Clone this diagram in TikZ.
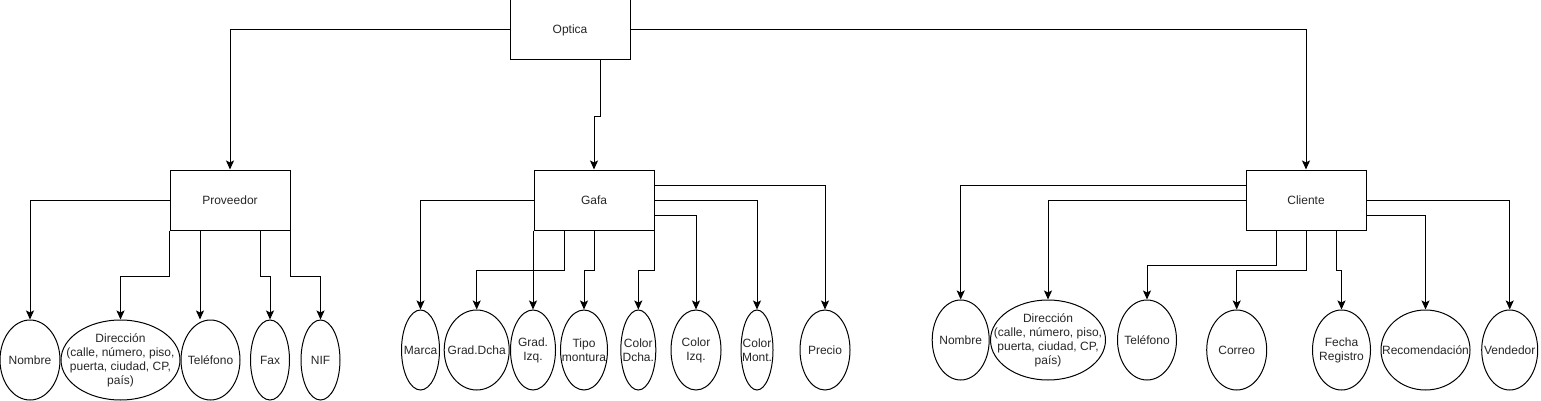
\documentclass[tikz,border=0pt]{standalone}
\usepackage{fontspec}
\setmainfont{Liberation Sans}
\usetikzlibrary{arrows.meta,shapes.geometric}

\begin{document}
\begin{tikzpicture}[x=1pt,y=-1pt,line width=1pt,
    caja/.style={draw,rectangle,minimum width=120,minimum height=60,inner sep=0pt},
    atrib/.style={draw,ellipse,minimum height=80,inner sep=0pt},
    flecha/.style={-{Stealth[length=9pt,width=8pt,inset=2pt]}},
    every node/.style={font=\fontsize{12}{14}\selectfont,text=black!85},
    every label/.style={align=center}]
    \useasboundingbox (0,0) rectangle (1541,401);

    % Draw the boxes
    \node[caja] (opt) at (570,30) {Optica};
    \node[caja] (prov) at (230,200) {Proveedor};
    \node[caja] (gafa) at (594,200) {Gafa};
    \node[caja] (cli) at (1306,200) {Cliente};

    % Attributes of Proveedor
    \node[atrib,minimum width=60,label=center:Nombre] (pNom) at (30,360) {};
    \node[atrib,minimum width=119,label={center:{Dirección\\(calle, número, piso,\\puerta, ciudad, CP,\\país)}}] (pDir) at (120.5,360) {};
    \node[atrib,minimum width=59,label=center:Teléfono] (pTel) at (210.5,360) {};
    \node[atrib,minimum width=39,label=center:Fax] (pFax) at (270,360) {};
    \node[atrib,minimum width=39,label=center:NIF] (pNif) at (320.5,360) {};

    % Attributes of Gafa
    \node[atrib,minimum width=38,label=center:Marca] (gMar) at (420.5,350) {};
    \node[atrib,minimum width=65,label=center:Grad.Dcha] (gGD) at (476.7,350) {};
    \node[atrib,minimum width=45,label={center:{Grad.\\Izq.}}] (gGI) at (533,350) {};
    \node[atrib,minimum width=47,label={center:{Tipo\\montura}}] (gTipo) at (584,350) {};
    \node[atrib,minimum width=35,label={center:{Color\\Dcha.}}] (gCD) at (638.3,350) {};
    \node[atrib,minimum width=50,label={center:{Color\\Izq.}}] (gCI) at (696,350) {};
    \node[atrib,minimum width=32,label={center:{Color\\Mont.}}] (gCM) at (757,350) {};
    \node[atrib,minimum width=50,label=center:Precio] (gPre) at (825,350) {};

    % Attributes of Cliente
    \node[atrib,minimum width=57,label=center:Nombre] (cNom) at (960.7,340) {};
    \node[atrib,minimum width=115,label={center:{Dirección\\(calle, número, piso,\\puerta, ciudad, CP,\\país)}}] (cDir) at (1048,340) {};
    \node[atrib,minimum width=59,label=center:Teléfono] (cTel) at (1147,340) {};
    \node[atrib,minimum width=60,label=center:Correo] (cCor) at (1236.7,350) {};
    \node[atrib,minimum width=58,label={center:{Fecha\\Registro}}] (cFec) at (1341.5,350) {};
    \node[atrib,minimum width=89,label=center:Recomendación] (cRec) at (1425.5,350) {};
    \node[atrib,minimum width=56,label=center:Vendedor] (cVen) at (1509.7,350) {};

    % Optica to its parts
    \draw[flecha] (opt.west) -| (prov.north);
    \draw[flecha] ([xshift=30]opt.south) -- ++(0,55.7) -| (gafa.north);
    \draw[flecha] (opt.east) -| (cli.north);

    % Proveedor connectors
    \draw[flecha] (prov.west) -| (pNom.north);
    \draw[flecha] (prov.south west) -- ++(0,46) -| (pDir.north);
    \draw[flecha] ([xshift=-30]prov.south) -- ([xshift=-30]prov.south |- pTel.north);
    \draw[flecha] ([xshift=30]prov.south) -- ++(0,46) -| (pFax.north);
    \draw[flecha] (prov.south east) -- ++(0,46) -| (pNif.north);

    % Gafa connectors
    \draw[flecha] (gafa.west) -| (gMar.north);
    \draw[flecha] ([xshift=-30]gafa.south) -- ++(0,40) -| (gGD.north);
    \draw[flecha] (gafa.south west) -- ++(0,40) -| (gGI.north);
    \draw[flecha] (gafa.south) -- ++(0,40) -| (gTipo.north);
    \draw[flecha] (gafa.south east) -- ++(0,40) -| (gCD.north);
    \draw[flecha] ([yshift=-15]gafa.east) -| (gCI.north);
    \draw[flecha] (gafa.east) -| (gCM.north);
    \draw[flecha] ([yshift=15]gafa.east) -| (gPre.north);

    % Cliente connectors
    \draw[flecha] ([yshift=15]cli.west) -| (cNom.north);
    \draw[flecha] (cli.west) -| (cDir.north);
    \draw[flecha] ([xshift=-30]cli.south) -- ++(0,35) -| (cTel.north);
    \draw[flecha] (cli.south) -- ++(0,40) -| (cCor.north);
    \draw[flecha] ([xshift=30]cli.south) -- ++(0,40) -| (cFec.north);
    \draw[flecha] ([yshift=-15]cli.east) -| (cRec.north);
    \draw[flecha] (cli.east) -| (cVen.north);
\end{tikzpicture}
\end{document}
